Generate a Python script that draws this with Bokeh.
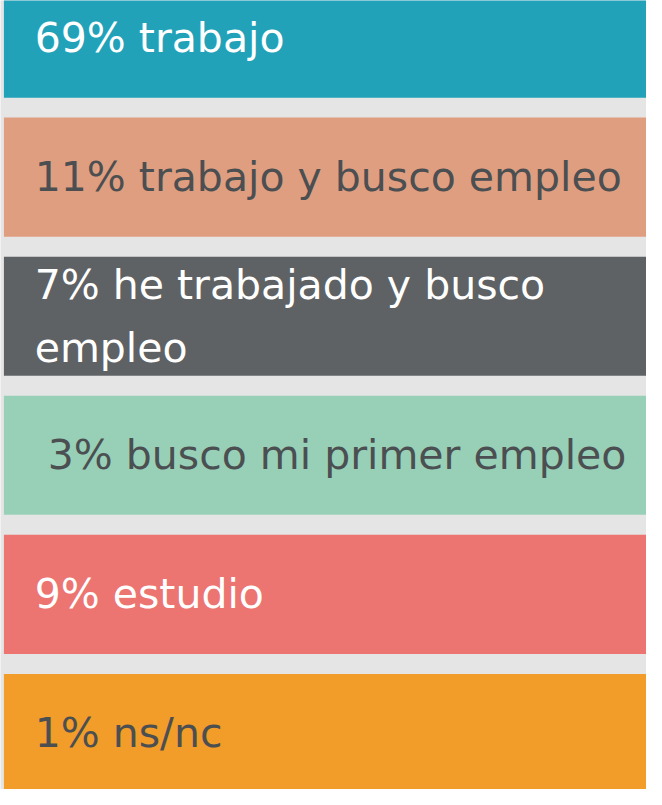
from bokeh.plotting import figure
from bokeh.models import Range1d, ColumnDataSource
from bokeh.core.properties import value
from bokeh.embed import file_html
from bokeh.resources import INLINE

# ---- data ----
categories = ["trabajo", "trabajo y busco empleo", "he trabajado y busco\nempleo",
              "busco mi primer empleo", "estudio", "ns/nc"]
percentages = [69, 11, 7, 3, 9, 1]
label_prefix = ["", "", "", "\u00a0", "", ""]
band_colors = ["#21a2b9", "#e09e80", "#5f6264", "#98d0b7", "#ec7471", "#f29d29"]
text_colors = ["#ffffff", "#4b4f51", "#ffffff", "#4b4f51", "#ffffff", "#4b4f51"]

# ---- layout (reference pixel coordinates, 662 x 805) ----
first_top = -22.4
pitch = 141.9
band_h = 121.5
text_x = 35

n = len(categories)
tops = [first_top + i * pitch for i in range(n)]
bottoms = [t + band_h for t in tops]
mids = [(t + b) / 2 for t, b in zip(tops, bottoms)]
texts = [f"{pre}{p}% {c}" for pre, p, c in zip(label_prefix, percentages, categories)]

src = ColumnDataSource(dict(top=tops, bottom=bottoms, mid=mids, color=band_colors,
                            tcolor=text_colors, text=texts,
                            left=[3.5] * n, right=[720] * n, tx=[text_x] * n))

W, H = 646, 789
p = figure(width=W, height=H, x_range=Range1d(0, 662), y_range=Range1d(805, 0),
           output_backend="svg", toolbar_location=None, min_border=0)
p.axis.visible = False
p.grid.visible = False
p.outline_line_color = None
p.background_fill_color = "#e5e5e5"
p.border_fill_color = "#e5e5e5"

p.quad(left="left", right="right", top="top", bottom="bottom", source=src,
       fill_color="color", line_color=None)
p.text(x="tx", y="mid", text="text", source=src, text_color="tcolor",
       text_font=value("DejaVu Sans"), text_font_size="41px", text_baseline="middle",
       text_align="left", text_line_height=1.32)

open("out.html", "w").write(file_html(p, INLINE))
